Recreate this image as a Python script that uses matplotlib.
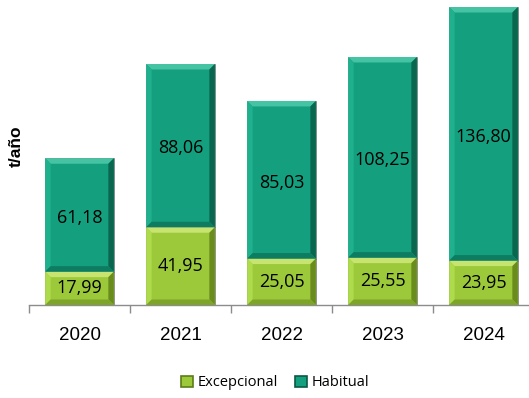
import matplotlib.pyplot as plt
from matplotlib.patches import Polygon, Patch

years = ["2020", "2021", "2022", "2023", "2024"]
excepcional = [17.99, 41.95, 25.05, 25.55, 23.95]
habitual = [61.18, 88.06, 85.03, 108.25, 136.80]

# face, top, left, right, bottom shades for the bevelled look
GREEN = ["#9cc93a", "#c6e46f", "#addb4c", "#6a8c1f", "#7ea42a"]
TEAL = ["#14a07f", "#45c3a2", "#1fb08d", "#0a664f", "#0d7c60"]

W_PX, H_PX = 529, 398
fig = plt.figure(figsize=(W_PX / 100, H_PX / 100), dpi=100)
ax_left, ax_right, ax_bottom, ax_top = 29, 534, 305, 1
ax = fig.add_axes([ax_left / W_PX, 1 - ax_bottom / H_PX,
                   (ax_right - ax_left) / W_PX, (ax_bottom - ax_top) / H_PX])
ymax = 164
ax.set_xlim(-0.5, 4.5)
ax.set_ylim(0, ymax)

px_x = (ax_right - ax_left) / 5.0
px_y = (ax_bottom - ax_top) / ymax
BEVEL = 5.5
bx, by = BEVEL / px_x, BEVEL / px_y


def bevel_bar(x, bottom, height, width, shades):
    face, top, left, right, low = shades
    x0, x1 = x - width / 2, x + width / 2
    y0, y1 = bottom, bottom + height
    ax.bar(x, height, width, bottom=bottom, color=face, edgecolor="#7a7a7a",
           linewidth=0.5, zorder=2)
    pieces = [
        ([(x0, y1), (x1, y1), (x1 - bx, y1 - by), (x0 + bx, y1 - by)], top),
        ([(x0, y0), (x0, y1), (x0 + bx, y1 - by), (x0 + bx, y0 + by)], left),
        ([(x1, y0), (x1, y1), (x1 - bx, y1 - by), (x1 - bx, y0 + by)], right),
        ([(x0, y0), (x1, y0), (x1 - bx, y0 + by), (x0 + bx, y0 + by)], low),
    ]
    for pts, c in pieces:
        ax.add_patch(Polygon(pts, closed=True, facecolor=c, edgecolor="none",
                             zorder=3))


label_font = dict(family=["Open Sans", "DejaVu Sans"], fontsize=13,
                  color="black", ha="center", va="center", zorder=4)
bar_w = 0.68
for i in range(len(years)):
    bevel_bar(i, 0, excepcional[i], bar_w, GREEN)
    bevel_bar(i, excepcional[i], habitual[i], bar_w, TEAL)
    ax.text(i, excepcional[i] / 2, f"{excepcional[i]:.2f}".replace(".", ","),
            **label_font)
    ax.text(i, excepcional[i] + habitual[i] / 2 - 1.5,
            f"{habitual[i]:.2f}".replace(".", ","), **label_font)

for side in ["top", "right", "left"]:
    ax.spines[side].set_visible(False)
ax.spines["bottom"].set_color("#8c8c8c")
ax.spines["bottom"].set_linewidth(1)
ax.set_yticks([])
ax.set_xticks(range(len(years)))
ax.set_xticklabels(years, family=["Liberation Sans", "DejaVu Sans"],
                   fontsize=13.5)
ax.tick_params(axis="x", which="major", length=0, pad=16)
ax.set_xticks([i - 0.5 for i in range(len(years) + 1)], minor=True)
ax.tick_params(axis="x", which="minor", length=6, color="#8c8c8c", width=1)

fig.text(16 / W_PX, 1 - 146 / H_PX, "t/año", rotation=90, ha="center",
         va="center", fontsize=12.5, fontweight="bold",
         family=["Liberation Sans", "DejaVu Sans"])

handles = [Patch(facecolor=GREEN[0], edgecolor="#5c7d18", linewidth=1.2),
           Patch(facecolor=TEAL[0], edgecolor="#0a5a45", linewidth=1.2)]
fig.legend(handles, ["Excepcional", "Habitual"], loc="center",
           bbox_to_anchor=(0.52, 1 - 383 / H_PX), ncol=2, frameon=False,
           prop=dict(family=["Open Sans", "DejaVu Sans"], size=10.5),
           handlelength=0.8, handleheight=0.8, handletextpad=0.3,
           columnspacing=1.2)

fig.savefig("out.png", dpi=100)
